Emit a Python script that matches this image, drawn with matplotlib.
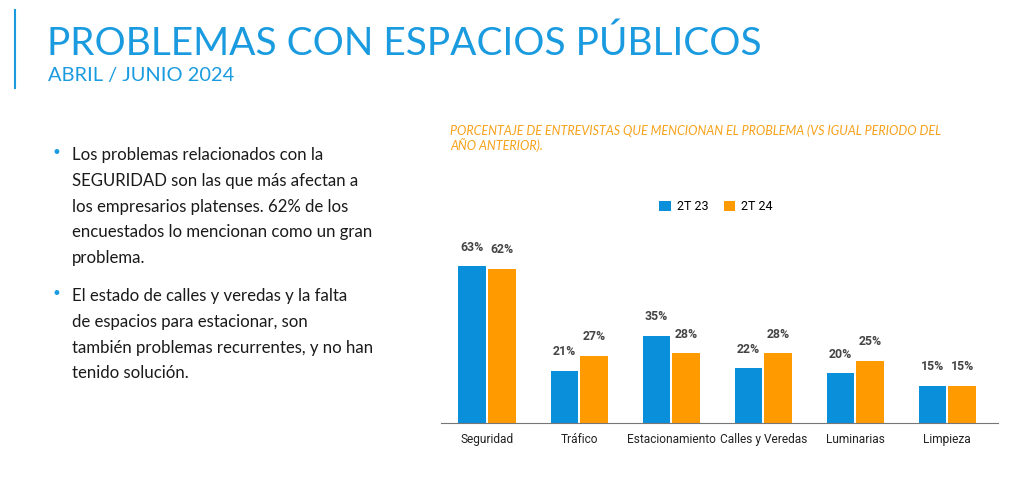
import matplotlib.pyplot as plt
import numpy as np

# data
categorias = ["Seguridad", "Tráfico", "Estacionamiento", "Calles y Veredas", "Luminarias", "Limpieza"]
t23 = [63, 21, 35, 22, 20, 15]
t24 = [62, 27, 28, 28, 25, 15]
series = ["2T 23", "2T 24"]

azul = "#0A8FDB"
naranja = "#FF9A00"
titulo_azul = "#1A9BE0"

fig = plt.figure(figsize=(10.24, 4.8), dpi=100)
W, H = 1024, 480

# title block
fig.add_artist(plt.Line2D([15 / W, 15 / W], [1 - 10 / H, 1 - 88 / H], color=titulo_azul, lw=1.5))
fig.text(47 / W, 1 - 44 / H, "PROBLEMAS CON ESPACIOS PÚBLICOS", color=titulo_azul,
         fontsize=28, family="Lato", va="center", ha="left")
fig.text(48 / W, 1 - 76 / H, "ABRIL / JUNIO 2024", color=titulo_azul,
         fontsize=14.4, family="Lato", va="center", ha="left")

# bullets
bullets = [
    ["Los problemas relacionados con la", "SEGURIDAD son las que más afectan a",
     "los empresarios platenses. 62% de los", "encuestados lo mencionan como un gran", "problema."],
    ["El estado de calles y veredas y la falta", "de espacios para estacionar, son",
     "también problemas recurrentes, y no han", "tenido solución."],
]
y0s = [155, 296]
for lines, y0 in zip(bullets, y0s):
    fig.text(52 / W, 1 - (y0 - 2) / H, "•", color=titulo_azul, fontsize=12, va="center")
    for i, ln in enumerate(lines):
        fig.text(72 / W, 1 - (y0 + i * 25.8) / H, ln, color="#1a1a1a", fontsize=12.1,
                 family="Lato", va="center", ha="left")

# chart subtitle
fig.text(450 / W, 1 - 131 / H, "PORCENTAJE DE ENTREVISTAS QUE MENCIONAN EL PROBLEMA (VS IGUAL PERIODO DEL",
         color="#F7A21B", fontsize=9, style="italic", family="Lato", va="center")
fig.text(450 / W, 1 - 145 / H, "AÑO ANTERIOR).",
         color="#F7A21B", fontsize=9, style="italic", family="Lato", va="center")

# bar chart
ax = fig.add_axes([441 / W, 1 - 423 / H, (998 - 441) / W, (423 - 230) / H])
x = np.arange(len(categorias))
w = 0.3
b1 = ax.bar(x - w / 2 - 0.01, t23, w, color=azul, label=series[0])
b2 = ax.bar(x + w / 2 + 0.01, t24, w, color=naranja, label=series[1])
for bars, vals in [(b1, t23), (b2, t24)]:
    for r, v in zip(bars, vals):
        ax.annotate(f"{v}%", (r.get_x() + r.get_width() / 2, r.get_height()),
                    xytext=(0, 13.7), textcoords="offset points", ha="center", va="center",
                    fontsize=8.8, fontweight="bold", color="#444444", family="Roboto")
ax.set_xlim(-0.5, 5.55)
ax.set_ylim(0, 77.5)
ax.set_xticks(x)
ax.set_xticklabels(categorias, fontsize=8.6, color="#222222", family="Roboto")
ax.tick_params(axis="x", length=0, pad=7)
ax.set_yticks([])
for s in ["top", "right", "left"]:
    ax.spines[s].set_visible(False)
ax.spines["bottom"].set_color("#777777")
ax.patch.set_alpha(0)

fig.legend(handles=[b1, b2], loc="center", bbox_to_anchor=(716 / W, 1 - 207 / H), ncol=2,
           frameon=False, handlelength=0.9, handleheight=0.9, columnspacing=1.2,
           handletextpad=0.5, prop={"family": "Roboto", "size": 9})

fig.savefig("out.png", dpi=100, facecolor="white")
